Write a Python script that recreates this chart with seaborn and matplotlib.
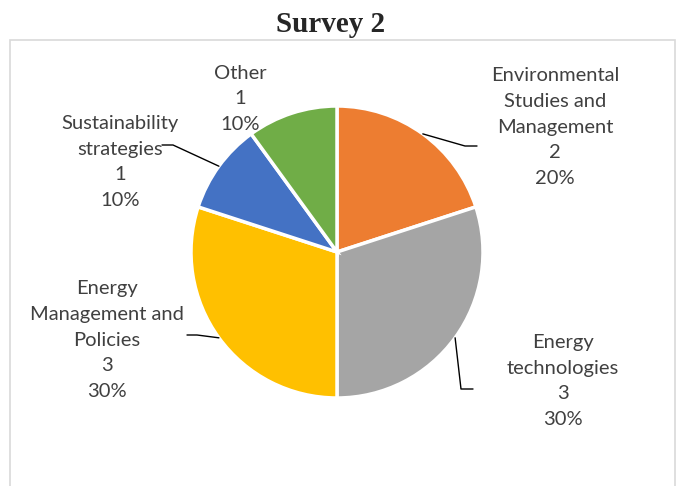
import numpy as np
import matplotlib
matplotlib.use('Agg')
import matplotlib.pyplot as plt
import matplotlib.patches as mpatches
import seaborn as sns

# data
topics = ['Environmental\nStudies and\nManagement', 'Energy\ntechnologies',
          'Energy\nManagement and\nPolicies', 'Sustainability\nstrategies', 'Other']
counts = [2, 3, 3, 1, 1]
colors = ['#ED7D31', '#A5A5A5', '#FFC000', '#4472C4', '#70AD47']

sns.set_theme(style='white')
plt.rcParams['font.family'] = ['Lato', 'DejaVu Sans']

W, H = 677, 486
fig = plt.figure(figsize=(W / 100, H / 100), dpi=100)
ax = fig.add_axes([0, 0, 1, 1])

# chart frame
ax.add_patch(mpatches.Rectangle((9.5, -5), 665.5, H - 40 + 5, fill=False,
                                edgecolor='#D9D9D9', linewidth=1.2))

cx, cy, r = 337, H - 252, 146
wedges, _ = ax.pie(counts, colors=colors, startangle=90, counterclock=False,
                   center=(cx, cy), radius=r, frame=True,
                   wedgeprops=dict(edgecolor='white', linewidth=2.5))
ax.set_xlim(0, W)
ax.set_ylim(0, H)
ax.axis('off')

total = sum(counts)
# label centre positions (pixels from top-left) and leader line elbows
label_pos = [(555, 127), (563, 381), (107, 340), (120, 162), (240, 99)]
elbows = [[(465, 146), (477, 146)], [(461, 389), (473, 389)],
          [(197, 335), (187, 335)], [(173, 145), (162, 145)], None]

for w, name, n, (lx, ly), el in zip(wedges, topics, counts, label_pos, elbows):
    pct = n / total * 100
    ax.text(lx, H - ly, f'{name}\n{n}\n{pct:.0f}%', ha='center', va='center',
            fontsize=14.5, color='#404040', linespacing=1.62)
    if el is not None:
        mid = np.deg2rad((w.theta1 + w.theta2) / 2)
        px, py = cx + r * np.cos(mid), cy + r * np.sin(mid)
        xs = [px] + [p[0] for p in el]
        ys = [py] + [H - p[1] for p in el]
        ax.plot(xs, ys, color='black', linewidth=1)

fig.text(331 / W, 1 - 24 / H, 'Survey 2', ha='center', va='center',
         fontsize=21, fontweight='bold', family='Liberation Serif')

fig.savefig('out.png', dpi=100)
